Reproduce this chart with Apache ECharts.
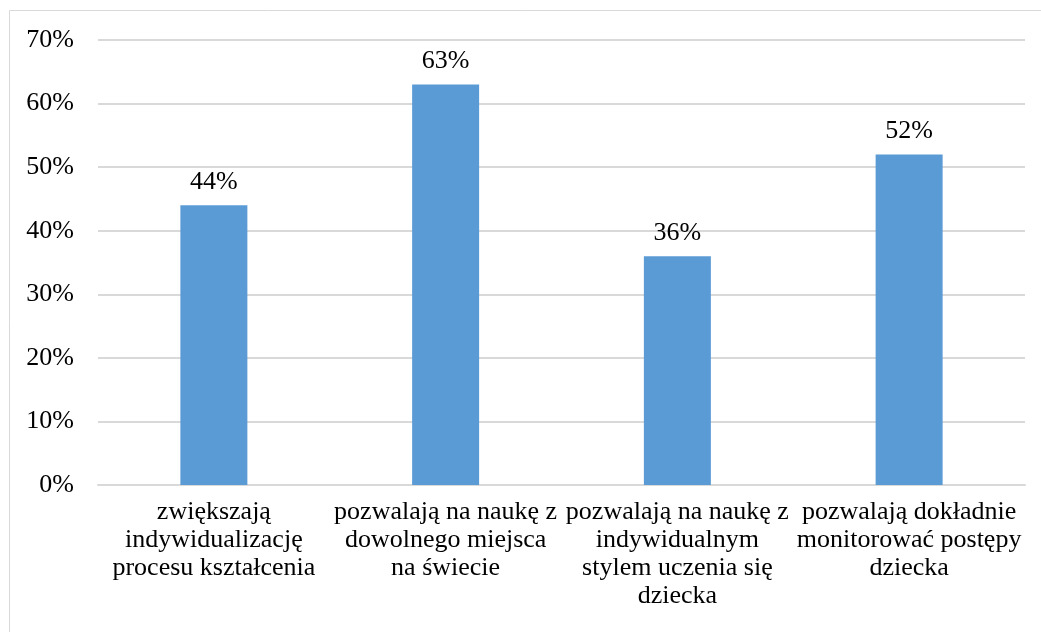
<!DOCTYPE html>
<html><head><meta charset="utf-8">
<script src="https://cdn.jsdelivr.net/npm/echarts@6/dist/echarts.min.js"></script>
<style>html,body{margin:0;padding:0;background:#fff}#c{width:1041px;height:632px}</style>
</head><body><div id="c"></div>
<script>
const categories = [
  "zwiększają\nindywidualizację\nprocesu kształcenia",
  "pozwalają na naukę z\ndowolnego miejsca\nna świecie",
  "pozwalają na naukę z\nindywidualnym\nstylem uczenia się\ndziecka",
  "pozwalają dokładnie\nmonitorować postępy\ndziecka"
];
const values = [44, 63, 36, 52];
const yMin = 0, yMax = 70, yStep = 10;

const font = '"Liberation Serif","Times New Roman",serif';
const chart = echarts.init(document.getElementById('c'), null, {renderer:'canvas'});
chart.setOption({
  animation:false,
  backgroundColor:'#fff',
  graphic:[{type:'rect', shape:{x:9.5,y:10.5,width:1040,height:630}, style:{fill:'none',stroke:'#D9D9D9',lineWidth:1}, silent:true}],
  grid:{left:98,right:16,top:40,bottom:147},
  xAxis:{type:'category',data:categories,
    axisLine:{lineStyle:{color:'#D9D9D9',width:2}},axisTick:{show:false},
    axisLabel:{interval:0,color:'#000',fontFamily:font,fontSize:26,lineHeight:28,margin:13}},
  yAxis:{type:'value',min:yMin,max:yMax,interval:yStep,
    axisLine:{show:false},axisTick:{show:false},
    splitLine:{lineStyle:{color:'#D9D9D9',width:2}},
    axisLabel:{formatter:v=>v+'%',color:'#000',fontFamily:font,fontSize:26,margin:24}},
  series:[{type:'bar',data:values,barWidth:67,itemStyle:{color:'#5B9BD5'},
    label:{show:true,position:'top',distance:10,formatter:p=>p.value+'%',color:'#000',fontFamily:font,fontSize:26}}]
});
</script></body></html>
